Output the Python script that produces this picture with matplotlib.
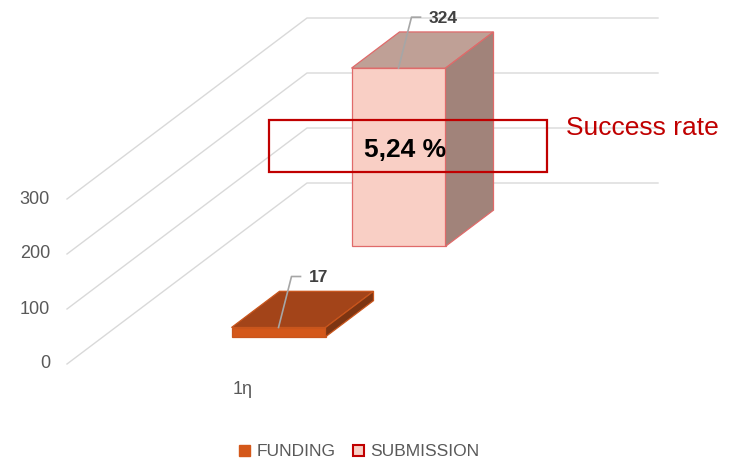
import matplotlib

matplotlib.use("Agg")
import matplotlib.pyplot as plt  # noqa: E402
from matplotlib.patches import Polygon, Rectangle, Patch  # noqa: E402

# dados
SERIES = ["FUNDING", "SUBMISSION"]
VALUES = [17, 324]
CATEGORY = "1η"
Y_TICKS = [0, 100, 200, 300]
RATE_TEXT = "5,24 %"
RATE_LABEL = "Success rate"

# tema / geometria (projeção oblíqua tipo Excel 3D)
PX_X = 351.0          # px por unidade de categoria
PX_V = 0.55           # px por unidade de valor
DX = 240 / PX_X       # vetor profundidade (x)
DY = 181 / PX_V       # vetor profundidade (valor)
HALF_W = 47 / PX_X
THICK = 0.2

GRID = "#d9d9d9"
TXT = "#595959"
RED = "#c00000"
FACES = {
    "FUNDING": ("#d4581a", "#a34419", "#7d3512", "#c9551c"),
    "SUBMISSION": ("#f9cfc5", "#bfa096", "#a1837a", "#e06a6a"),
}

plt.rcParams["font.family"] = ["Liberation Sans", "DejaVu Sans"]


def px(d):
    return d / PX_X


def pv(d):
    return d / PX_V


def barra(ax, c, v, t0, cores, z):
    frente, topo, lado, borda = cores
    x0, x1 = c - HALF_W, c + HALF_W
    ox0, oy0 = DX * t0, DY * t0
    ox1, oy1 = DX * (t0 + THICK), DY * (t0 + THICK)
    faces = [
        ([(x0 + ox0, oy0), (x1 + ox0, oy0), (x1 + ox0, v + oy0), (x0 + ox0, v + oy0)], frente),
        ([(x0 + ox0, v + oy0), (x1 + ox0, v + oy0), (x1 + ox1, v + oy1), (x0 + ox1, v + oy1)], topo),
        ([(x1 + ox0, oy0), (x1 + ox1, oy1), (x1 + ox1, v + oy1), (x1 + ox0, v + oy0)], lado),
    ]
    for pts, cor in faces:
        ax.add_patch(Polygon(pts, closed=True, facecolor=cor, edgecolor=borda,
                             linewidth=0.9, zorder=z))
    return c + ox0, v + oy0


fig = plt.figure(figsize=(7.34, 4.62), dpi=100)
ax = fig.add_axes([0, 0, 1, 1])
ax.set_xlim(px(-67), px(734 - 67))
ax.set_ylim(pv(-(462 - 364)), pv(364))
ax.axis("off")

# grade
for v in Y_TICKS:
    ax.plot([0, DX, DX + 1], [v, v + DY, v + DY], color=GRID, lw=1.0, zorder=1)
    ax.text(px(-17), v, str(v), ha="right", va="center", fontsize=13, color=TXT)

# barras (trás para frente)
centro = 0.5
topos = {}
for i in reversed(range(len(SERIES))):
    t0 = (i + 0.5) / len(SERIES) - THICK / 2
    topos[SERIES[i]] = barra(ax, centro, VALUES[i], t0, FACES[SERIES[i]], 3 + (1 - i))

# rótulos com linha de chamada
for nome, val in zip(SERIES, VALUES):
    x, y = topos[nome]
    ax.plot([x, x + px(13), x + px(22)], [y, y + pv(51), y + pv(51)],
            color="#a6a6a6", lw=1.2, zorder=6)
    ax.text(x + px(30), y + pv(50), str(val), ha="left", va="center",
            fontsize=12.5, fontweight="bold", color="#404040", zorder=6)

ax.text(centro, pv(-26), CATEGORY, ha="center", va="center", fontsize=13, color=TXT)

# caixa da taxa de sucesso
bx0, bx1 = px(269 - 67), px(547 - 67)
by0, by1 = pv(364 - 172), pv(364 - 120)
ax.add_patch(Rectangle((bx0, by0), bx1 - bx0, by1 - by0, fill=False,
                       edgecolor=RED, linewidth=1.6, zorder=7))
ax.text(px(405 - 67), pv(364 - 150), RATE_TEXT, ha="center", va="center",
        fontsize=19, fontweight="bold", color="black", zorder=8)
ax.text(px(566 - 67), pv(364 - 128), RATE_LABEL, ha="left", va="center",
        fontsize=19, color=RED, zorder=8)

# legenda
handles = [
    Patch(facecolor=FACES["FUNDING"][0], edgecolor=FACES["FUNDING"][0]),
    Patch(facecolor=FACES["SUBMISSION"][0], edgecolor=RED, linewidth=1.5),
]
fig.legend(handles, SERIES, loc="center", bbox_to_anchor=(359 / 734, 1 - 452 / 462),
           ncol=2, frameon=False, fontsize=12.5, labelcolor=TXT,
           handlelength=0.65, handleheight=0.65, handletextpad=0.35,
           columnspacing=1.0)

fig.savefig("out.png", dpi=100)
